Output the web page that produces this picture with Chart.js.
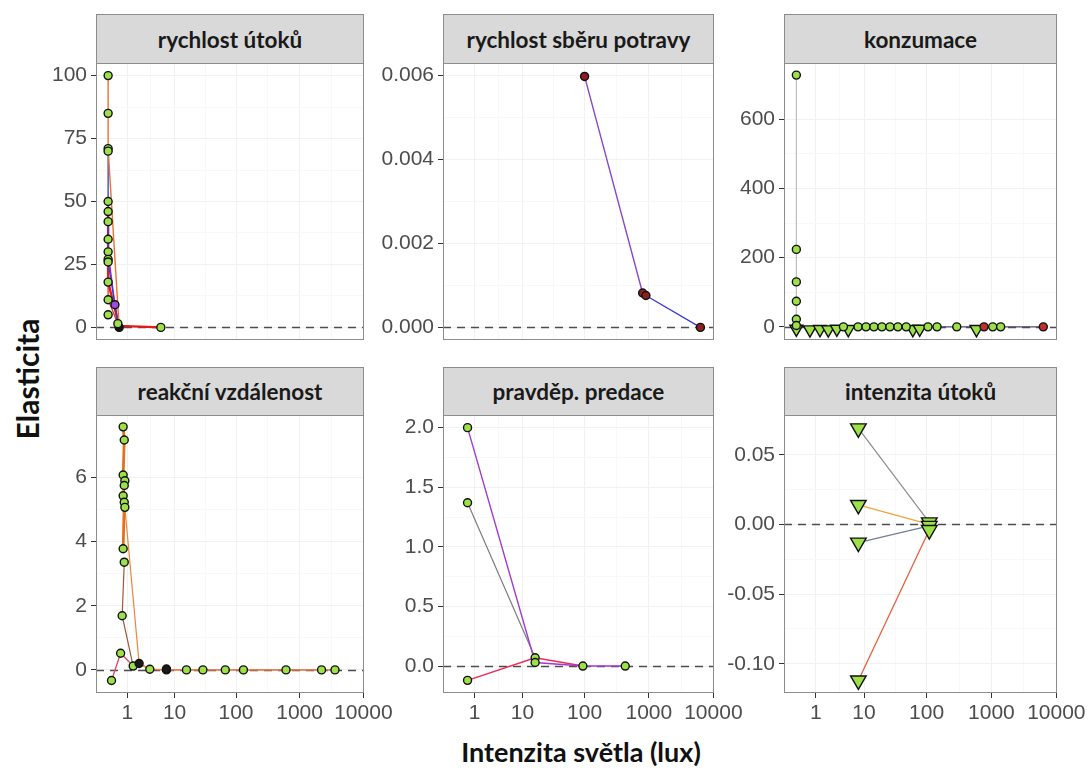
<!DOCTYPE html>
<html>
<head>
<meta charset="utf-8">
<script src="https://cdn.jsdelivr.net/npm/chart.js@4.4.1/dist/chart.umd.min.js"></script>
<style>
  body { margin: 0; background: #fff; width: 1090px; height: 771px; position: relative; overflow: hidden; }
  .strip { position: absolute; box-sizing: border-box; background: #d9d9d9; border: 1px solid #8c8c8c;
           display: flex; align-items: center; justify-content: center;
           font-family: Lato, sans-serif; font-weight: 700; font-size: 22.5px; color: #1a1a1a; }
  canvas { position: absolute; }
  .title { position: absolute; font-family: Lato, sans-serif; font-weight: 700; color: #111; white-space: nowrap; text-align: center; }
</style>
</head>
<body>
<div class="title" style="left:-73px; top:361px; width:200px; height:36px; font-size:30px; transform:rotate(-90deg);">Elasticita</div>
<div class="title" style="left:381px; top:735px; width:400px; font-size:27px;">Intenzita světla (lux)</div>
<script>
// shared x axis: light intensity in lux, plotted on a log10(lux + 1) scale
const xTickLux = [1, 10, 100, 1000, 10000];
const xRange = [-0.19, 4.01];

// y axis ticks / limits for each facet
const yTicksUtoky = [0, 25, 50, 75, 100];
const yRangeUtoky = [-5, 105];
const yTicksSber = [0, 0.002, 0.004, 0.006];
const yRangeSber = [-0.0003, 0.0063];
const yTicksKonz = [0, 200, 400, 600];
const yRangeKonz = [-38, 763];
const yTicksReakc = [0, 2, 4, 6];
const yRangeReakc = [-0.72, 7.95];
const yTicksPred = [0, 0.5, 1, 1.5, 2];
const yRangePred = [-0.226, 2.106];
const yTicksInt = [-0.1, -0.05, 0, 0.05];
const yRangeInt = [-0.121, 0.0786];

// rychlost útoků
const utokyLux = [0, 0, 0, 0, 0, 0, 0, 0, 0, 0, 0, 0, 0, 0, 0.42, 5.7];
const utokyVal = [100, 85, 71, 70, 50, 46, 42, 35, 30, 27, 26, 18, 11, 5, 1.5, 0];
const utokyBlackLux = [0.49];
const utokyBlackVal = [0];
const utokyVioletLux = [0.28];
const utokyVioletVal = [9];
const utokyOrangeLux = [0, 0, 0, 0.49];
const utokyOrangeVal = [100, 85, 71, 0];
const utokyBlueLux = [0, 0, 0, 0.42];
const utokyBlueVal = [70, 50, 26, 1.5];
const utokyRedLux = [0, 0, 0, 0.49, 5.7];
const utokyRedVal = [46, 42, 18, 0.6, 0];
const utokyPurpleLux = [0, 0, 0.28, 0.49];
const utokyPurpleVal = [35, 30, 9, 0];
const utokyRed2Lux = [0, 0, 0.42];
const utokyRed2Val = [27, 11, 1.5];

// rychlost sběru potravy
const sberLux = [100, 800, 900, 6300];
const sberVal = [0.00598, 0.00082, 0.00076, 0];
const sberPurpleLux = [100, 800];
const sberPurpleVal = [0.00598, 0.00082];
const sberBlueLux = [800, 900, 6300];
const sberBlueVal = [0.00082, 0.00076, 0];

// konzumace
const konzCircLux = [0, 0, 0, 0, 0, 0, 4.3, 7.9, 10.8, 14.6, 19.7, 26.5, 35.5, 48, 105, 145, 293, 1050, 1390];
const konzCircVal = [728, 224, 130, 74, 22, 4, 0, 0, 0, 0, 0, 0, 0, 0, 0, 0, 0, 0, 0];
const konzTriLux = [0, 0.62, 1.31, 2.1, 3.2, 5.3, 61, 78, 590];
const konzTriVal = [-6, -8, -7, -8, -6, -7, -7, -6, -7];
const konzRedLux = [770, 6300];
const konzRedVal = [0, 0];
const konzGrayLux = [0, 0, 0, 0, 0, 0];
const konzGrayVal = [728, 224, 130, 74, 22, 0];
const konzDarkLux = [0, 5.3, 145, 293, 590, 1050, 1390, 6300];
const konzDarkVal = [0, 0, 0, 0, 0, 0, 0, 0];

// reakční vzdálenost
const reakcLux = [0.72, 0.79, 0.72, 0.83, 0.79, 0.72, 0.79, 0.83, 0.72, 0.79, 0.66, 0.57, 0.13, 1.47, 3.5, 7.2, 15.9, 29.6, 67.6, 131, 612, 2210, 3590];
const reakcVal = [7.58, 7.17, 6.08, 5.9, 5.75, 5.43, 5.23, 5.07, 3.78, 3.36, 1.69, 0.52, -0.33, 0.12, 0.02, 0, 0, 0, 0, 0, 0, 0, 0];
const reakcDarkLux = [2.06, 7.2];
const reakcDarkVal = [0.2, 0.03];
const reakcOrangeLux = [0.72, 0.79, 0.72, 0.83, 0.79, 0.72, 0.79, 0.72];
const reakcOrangeVal = [7.58, 7.17, 6.08, 5.9, 5.75, 5.43, 5.23, 3.78];
const reakcTanLux = [0.83, 2.06, 3.5, 7.2, 15.9, 29.6, 67.6, 131, 612, 2210, 3590];
const reakcTanVal = [5.07, 0.2, 0.02, 0, 0, 0, 0, 0, 0, 0, 0];
const reakcBrownLux = [0.79, 0.66, 1.47];
const reakcBrownVal = [3.36, 1.69, 0.12];
const reakcRedLux = [0.13, 0.57, 1.47, 2.06, 3.5, 7.2, 15.9, 29.6, 67.6, 131, 612, 2210, 3590];
const reakcRedVal = [-0.33, 0.52, 0.12, 0.2, 0.02, 0, 0, 0, 0, 0, 0, 0, 0];

// pravděp. predace
const predLux = [0.55, 0.55, 0.55, 16.3, 16.3, 94, 430];
const predVal = [2.0, 1.37, -0.12, 0.07, 0.03, 0, 0];
const predPurpleLux = [0.55, 16.3, 94, 430];
const predPurpleVal = [2.0, 0.03, 0, 0];
const predGrayLux = [0.55, 16.3];
const predGrayVal = [1.37, 0.07];
const predRedLux = [0.55, 16.3, 94];
const predRedVal = [-0.12, 0.07, 0];

// intenzita útoků
const intLux = [8, 8, 8, 8, 110, 110, 110];
const intVal = [0.069, 0.014, -0.013, -0.112, 0.0015, -0.001, -0.004];
const intGrayLux = [8, 110];
const intGrayVal = [0.069, 0.0015];
const intOrangeLux = [8, 110];
const intOrangeVal = [0.014, 0];
const intSlateLux = [8, 110];
const intSlateVal = [-0.013, -0.001];
const intRedLux = [8, 110];
const intRedVal = [-0.112, -0.004];

const GREEN = '#9de04a';
const lp = v => Math.log10(v + 1);
const pts = (lux, val) => lux.map((x, i) => ({ x: lp(x), y: val[i] }));

function line(lux, val, color, width) {
  return { data: pts(lux, val), showLine: true, borderColor: color, borderWidth: width || 1.2,
           pointRadius: 0, order: 2 };
}
function marks(lux, val, fill, tri) {
  return { data: pts(lux, val), showLine: false, pointStyle: tri ? 'triangle' : 'circle',
           pointRotation: tri ? 180 : 0, pointRadius: tri ? tri : 4,
           pointBackgroundColor: fill, pointBorderColor: '#111', pointBorderWidth: 1.4, order: 1 };
}

const panels = [
  { title: 'rychlost útoků', box: [96, 63, 364, 340], strip: 14, yTicks: yTicksUtoky, yRange: yRangeUtoky, dec: 0, xLabels: false,
    sets: [
      marks(utokyLux, utokyVal, GREEN), marks(utokyBlackLux, utokyBlackVal, '#111'), marks(utokyVioletLux, utokyVioletVal, '#9b4de0'),
      line(utokyOrangeLux, utokyOrangeVal, '#e8742f', 1.4), line(utokyBlueLux, utokyBlueVal, '#2b3fd6', 1.3),
      line(utokyRedLux, utokyRedVal, '#e41a1c', 2.4), line(utokyPurpleLux, utokyPurpleVal, '#9932cc', 1.3),
      line(utokyRed2Lux, utokyRed2Val, '#d93b2b', 1.3)
    ] },
  { title: 'rychlost sběru potravy', box: [443, 63, 714, 340], strip: 14, yTicks: yTicksSber, yRange: yRangeSber, dec: 3, xLabels: false,
    sets: [
      marks(sberLux, sberVal, '#8b2020'),
      line(sberPurpleLux, sberPurpleVal, '#8a48c8', 1.4), line(sberBlueLux, sberBlueVal, '#3a3ad8', 1.3)
    ] },
  { title: 'konzumace', box: [784, 63, 1057, 340], strip: 14, yTicks: yTicksKonz, yRange: yRangeKonz, dec: 0, xLabels: false,
    sets: [
      marks(konzRedLux, konzRedVal, '#c0302a'), marks(konzCircLux, konzCircVal, GREEN), marks(konzTriLux, konzTriVal, GREEN, 7.5),
      line(konzGrayLux, konzGrayVal, '#bdbdbd', 1.2), line(konzDarkLux, konzDarkVal, '#4b4b6e', 1.2)
    ] },
  { title: 'reakční vzdálenost', box: [96, 415, 364, 693], strip: 367, yTicks: yTicksReakc, yRange: yRangeReakc, dec: 0, xLabels: true,
    sets: [
      marks(reakcDarkLux, reakcDarkVal, '#1a1a1a'), marks(reakcLux, reakcVal, GREEN),
      line(reakcOrangeLux, reakcOrangeVal, '#e2711d', 2.8), line(reakcTanLux, reakcTanVal, '#e8893f', 1.2),
      line(reakcBrownLux, reakcBrownVal, '#9a5b3a', 1.2), line(reakcRedLux, reakcRedVal, '#e2475c', 1.3)
    ] },
  { title: 'pravděp. predace', box: [443, 415, 714, 693], strip: 367, yTicks: yTicksPred, yRange: yRangePred, dec: 1, xLabels: true,
    sets: [
      marks(predLux, predVal, GREEN),
      line(predPurpleLux, predPurpleVal, '#a03cd2', 1.4), line(predGrayLux, predGrayVal, '#7d7d7d', 1.2),
      line(predRedLux, predRedVal, '#ee2a55', 1.5)
    ] },
  { title: 'intenzita útoků', box: [784, 415, 1057, 693], strip: 367, yTicks: yTicksInt, yRange: yRangeInt, dec: 2, xLabels: true,
    sets: [
      marks(intLux, intVal, GREEN, 9),
      line(intGrayLux, intGrayVal, '#8c8c8c', 1.2), line(intOrangeLux, intOrangeVal, '#f2a33a', 1.3),
      line(intSlateLux, intSlateVal, '#6e7f99', 1.2), line(intRedLux, intRedVal, '#e5603f', 1.3)
    ] }
];

const panelFrame = {
  id: 'panelFrame',
  beforeDatasetsDraw(chart) {
    const { ctx, chartArea: a } = chart;
    const y0 = Math.round(chart.scales.y.getPixelForValue(0)) + 0.5;
    ctx.save();
    ctx.strokeStyle = '#4d4d4d';
    ctx.lineWidth = 1.3;
    ctx.setLineDash([8, 6]);
    ctx.beginPath();
    ctx.moveTo(a.left, y0);
    ctx.lineTo(a.right, y0);
    ctx.stroke();
    ctx.restore();
  },
  afterDraw(chart) {
    const { ctx, chartArea: a } = chart;
    ctx.save();
    ctx.strokeStyle = '#8c8c8c';
    ctx.lineWidth = 1;
    ctx.strokeRect(a.left + 0.5, a.top + 0.5, a.right - a.left - 1, a.bottom - a.top - 1);
    ctx.restore();
  }
};

Chart.defaults.font.family = "'Liberation Sans', Arial, sans-serif";
const gridColor = c => (c.tick && c.tick.minor ? '#f8f8f8' : '#f1f1f1');
const tickColor = c => (c.tick && c.tick.minor ? 'rgba(0,0,0,0)' : '#333');

function withMinors(values) {
  const out = [];
  values.forEach((v, i) => {
    if (i > 0) out.push({ value: (values[i - 1] + v) / 2, minor: true });
    out.push({ value: v });
  });
  return out;
}

panels.forEach(p => {
  const w = p.box[2] - p.box[0], h = p.box[3] - p.box[1];
  const yW = 80, padT = 18, padR = 45, xH = p.xLabels ? 48 : 0, padB = p.xLabels ? 0 : 18;

  const strip = document.createElement('div');
  strip.className = 'strip';
  strip.textContent = p.title;
  strip.style.left = p.box[0] + 'px';
  strip.style.top = p.strip + 'px';
  strip.style.width = w + 'px';
  strip.style.height = (p.box[1] - p.strip + 1) + 'px';
  document.body.appendChild(strip);

  const canvas = document.createElement('canvas');
  canvas.width = w + yW + padR;
  canvas.height = h + padT + padB + xH;
  canvas.style.left = (p.box[0] - yW) + 'px';
  canvas.style.top = (p.box[1] - padT) + 'px';
  document.body.appendChild(canvas);

  new Chart(canvas.getContext('2d'), {
    type: 'scatter',
    data: { datasets: p.sets },
    options: {
      responsive: false,
      animation: false,
      events: [],
      layout: { padding: { left: 0, top: padT, right: padR, bottom: padB } },
      plugins: { legend: { display: false }, tooltip: { enabled: false } },
      scales: {
        x: {
          type: 'linear', min: xRange[0], max: xRange[1],
          border: { display: false },
          grid: { color: gridColor, lineWidth: 1, drawTicks: p.xLabels, tickLength: 5, tickColor: tickColor, tickWidth: 1 },
          ticks: {
            display: p.xLabels, autoSkip: false, maxRotation: 0, minRotation: 0, padding: 3,
            color: '#4d4d4d', font: { size: 21 },
            callback: (v, i, ticks) => {
              if (ticks[i].minor) return '';
              const lux = xTickLux.find(t => Math.abs(lp(t) - v) < 1e-9);
              return String(lux);
            }
          },
          afterBuildTicks: s => { s.ticks = withMinors(xTickLux.map(lp)); },
          afterFit: s => { s.height = xH; }
        },
        y: {
          type: 'linear', min: p.yRange[0], max: p.yRange[1],
          border: { display: false },
          grid: { color: gridColor, lineWidth: 1, tickLength: 5, tickColor: tickColor, tickWidth: 1 },
          ticks: {
            autoSkip: false, padding: 4, color: '#4d4d4d', font: { size: 21 },
            callback: (v, i, ticks) => (ticks[i].minor ? '' : v.toFixed(p.dec))
          },
          afterBuildTicks: s => { s.ticks = withMinors(p.yTicks); },
          afterFit: s => { s.width = yW; }
        }
      }
    },
    plugins: [panelFrame]
  });
});
</script>
</body>
</html>
